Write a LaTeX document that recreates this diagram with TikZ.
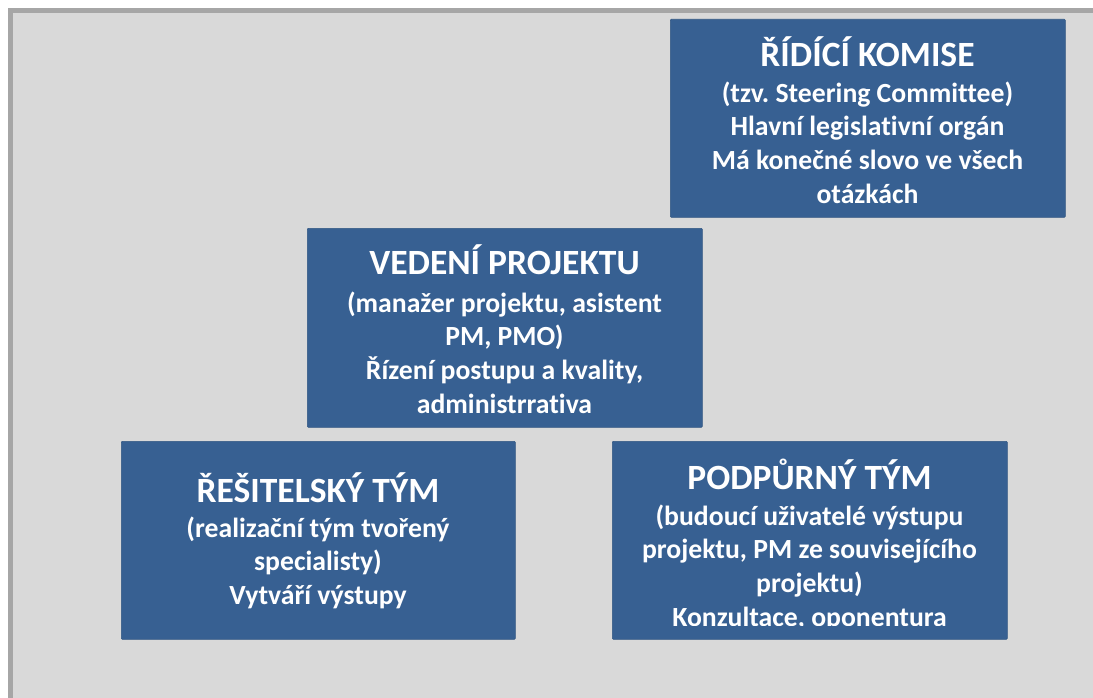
\documentclass[tikz,border=0pt]{standalone}
\usepackage{fontspec}
\setmainfont{Carlito}[RawFeature=-liga]
\frenchspacing
\definecolor{boxblue}{HTML}{376092}
\definecolor{bggray}{HTML}{D9D9D9}
\definecolor{framegray}{HTML}{A6A6A6}
\begin{document}
\begin{tikzpicture}[x=1pt,y=-1pt,
  box/.style={rectangle, fill=boxblue, draw=boxblue!90!black, line width=0.6pt, rounded corners=1pt, anchor=north west, inner sep=0pt},
  ttl/.style={anchor=base, inner sep=0pt, text=white, font=\fontsize{35.5}{40}\selectfont\bfseries},
  bdy/.style={anchor=north, inner sep=0pt, text=white, align=center, font=\fontsize{27.7}{33.7}\selectfont\bfseries}]
\useasboundingbox (0,0) rectangle (1093,698);
\fill[white] (0,0) rectangle (1093,698);
\fill[framegray] (8,8) rectangle (1093,698);
\fill[bggray] (13,13) rectangle (1093,698);
% boxes
\node[box, minimum width=395pt, minimum height=198pt] (rk) at (670,19) {};
\node[box, minimum width=395pt, minimum height=199pt] (vp) at (307,228) {};
\node[box, minimum width=394pt, minimum height=198pt] (rt) at (121,441) {};
\node[box, minimum width=395pt, minimum height=198pt] (pt) at (612,441) {};
% texts
\node[ttl] (rkt) at (867.5,67) {ŘÍDÍCÍ KOMISE};
\node[bdy] (rkb) at (867.5,72) {\rule{0pt}{30pt}(tzv. Steering Committee)\\Hlavní legislativní orgán\\Má konečné slovo ve všech\\otázkách};
\node[ttl] (vpt) at (504.5,274) {VEDENÍ PROJEKTU};
\node[bdy] (vpb) at (504.5,282) {\rule{0pt}{30pt}(manažer projektu, asistent\\PM, PMO)\\Řízení postupu a kvality,\\administrrativa};
\node[ttl] (rtt) at (318,502) {ŘEŠITELSKÝ TÝM};
\node[bdy] (rtb) at (318,507) {\rule{0pt}{30pt}(realizační tým tvořený\\specialisty)\\Vytváří výstupy};
\begin{scope}
\clip (612,441) rectangle (1007,625);
\node[ttl] (ptt) at (809.5,489) {PODPŮRNÝ TÝM};
\node[bdy] (ptb) at (809.5,495) {\rule{0pt}{30pt}(budoucí uživatelé výstupu\\projektu, PM ze souvisejícího\\projektu)\\Konzultace, oponentura};
\end{scope}
\end{tikzpicture}
\end{document}
